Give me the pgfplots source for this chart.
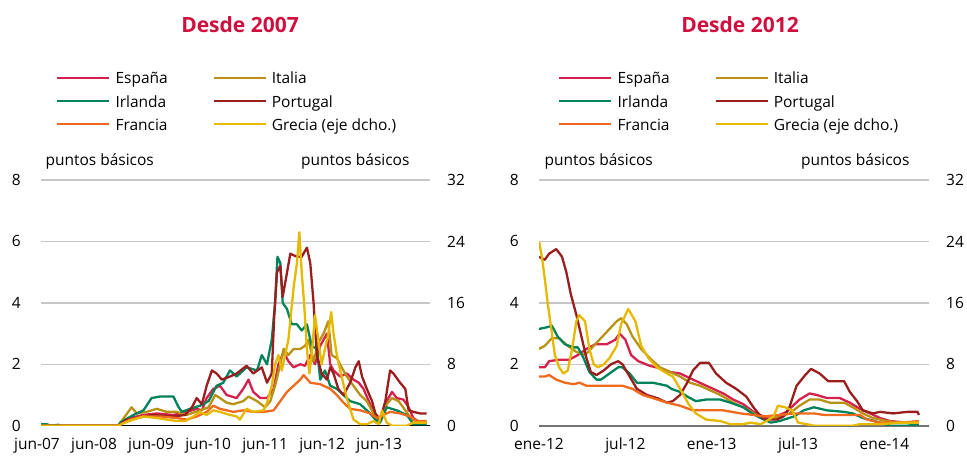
\documentclass[border=0pt]{standalone}
\usepackage{pgfplots}
\pgfplotsset{compat=1.18}
\usepackage{fontspec}
\setmainfont{Open Sans}
\definecolor{esp}{RGB}{212,33,78}
\definecolor{ita}{RGB}{184,146,20}
\definecolor{irl}{RGB}{0,130,90}
\definecolor{por}{RGB}{155,30,30}
\definecolor{fra}{RGB}{240,106,30}
\definecolor{gre}{RGB}{230,185,0}
\definecolor{titlered}{RGB}{207,16,62}
\newcommand{\tf}{\fontsize{15.5}{18}\selectfont}
\newcommand{\lent}[1]{\rule[-3pt]{0pt}{17pt}\makebox[102pt][l]{\hspace{5pt}#1}}
\pgfplotsset{
  base/.style={
    scale only axis, anchor=south west, height=245.7pt,
    ymin=0, ymax=8, no markers,
    every axis plot/.append style={line width=2.3pt, line join=round, sharp plot},
    tick label style={font=\tf},
    /pgf/number format/assume math mode=true,
    major tick length=0pt, tick style={draw=none},
  },
  leftax/.style={
    base, axis x line*=bottom, axis y line*=left,
    y axis line style={draw=none},
    ytick={0,2,4,6,8},
    ymajorgrids, grid style={black!22, line width=1.3pt},
    yticklabel style={anchor=east, inner sep=0pt}, yticklabel shift=20pt,
    xticklabel style={anchor=north, inner sep=0pt}, xticklabel shift=12pt,
    legend image code/.code={\draw[##1, line width=2.3pt] (0pt,0pt) -- (52pt,0pt);},
  },
  rightax/.style={
    base, ymax=32, axis y line*=right, axis x line=none,
    y axis line style={draw=none},
    ytick={0,8,16,24,32},
    yticklabel style={anchor=west, inner sep=0pt}, yticklabel shift=17pt,
  },
}
\begin{document}
\begin{tikzpicture}
\path[use as bounding box] (0,0) rectangle (967pt,460pt);
% ---------------- Left panel ----------------
\begin{axis}[leftax, at={(41pt,34.3pt)}, width=389pt, xmin=0.84, xmax=82.7,
  xtick={12,24,36,48,60,72}, xticklabels={jun-08,jun-09,jun-10,jun-11,jun-12,jun-13},
  extra x ticks={0.84}, extra x tick labels={jun-07},
  extra x tick style={grid=none, xticklabel style={xshift=-4pt}},
  x axis line style={black, line width=1.2pt},
  legend columns=2, legend cell align=left,
  legend style={at={(0.0386,1.4487)}, anchor=north west, draw=none, fill=none,
      inner sep=0pt, /tikz/row sep=7.6pt, /tikz/column sep=0pt,
      nodes={inner sep=0pt, font=\tf}}]
\addplot[esp] table {
0.8 0
17.1 0
19.6 0.25
22.4 0.35
25.2 0.4
28.7 0.35
31.5 0.45
33.6 0.55
34.7 0.5
35.7 0.9
37.1 1.2
38.5 1.3
39.9 1.0
42.0 0.9
43.4 1.2
44.5 1.5
45.5 1.1
47.0 0.9
48.4 0.9
49.8 1.2
50.8 2.0
51.9 2.4
52.9 2.1
54.0 1.9
55.4 2.0
56.4 1.95
57.5 2.3
58.5 2.0
59.6 2.6
60.3 2.8
61.0 3.0
61.7 2.0
62.4 1.8
63.8 1.6
65.2 1.7
66.6 1.5
67.7 1.4
68.7 1.2
70.1 0.7
71.2 0.35
72.2 0.15
73.6 0.8
74.7 1.1
75.7 0.9
77.1 0.85
78.2 0.6
79.2 0.25
80.6 0.1
82.0 0.1
};
\addlegendentry{\lent{España}}
\addplot[ita] table {
0.8 0
17.1 0
18.5 0.3
19.9 0.6
21.0 0.4
23.1 0.45
25.2 0.55
27.3 0.45
29.4 0.45
31.5 0.35
34.3 0.5
36.1 0.6
37.5 1.0
38.5 0.9
39.9 0.75
41.3 0.7
43.4 0.8
44.5 0.95
46.3 0.8
48.0 0.6
49.1 0.8
50.1 1.3
51.2 2.0
51.9 2.5
52.9 2.3
54.0 2.5
55.4 2.5
56.4 2.6
57.1 2.8
58.2 2.1
59.2 2.7
60.3 3.0
61.3 3.4
62.0 2.3
63.1 2.2
64.1 1.9
65.2 1.6
66.6 1.3
68.0 1.0
69.4 0.8
70.8 0.4
72.2 0.15
73.6 0.7
74.7 0.9
76.1 0.8
77.5 0.5
78.9 0.2
80.6 0.1
82.0 0.1
};
\addlegendentry{\lent{Italia}}
\addplot[irl] table {
0.8 0.05
2.0 0.05
3.0 0.0
4.5 0.03
5.0 0.0
17.1 0.0
17.5 0.1
20.3 0.35
22.4 0.5
24.1 0.9
25.9 0.95
28.7 0.95
29.8 0.6
30.5 0.45
32.2 0.55
34.3 0.65
36.1 0.8
37.8 1.3
39.2 1.4
40.6 1.8
42.0 1.6
44.1 1.9
46.3 1.8
47.3 2.3
48.4 2.0
49.4 2.8
50.1 4.0
50.6 5.5
51.2 5.3
51.7 4.0
52.6 3.8
53.6 3.3
54.7 3.3
55.7 3.1
56.8 3.3
57.8 2.6
58.9 2.5
59.6 1.5
60.6 1.8
61.7 1.3
63.1 1.2
64.5 1.0
65.9 0.8
68.0 0.7
70.1 0.4
71.2 0.2
72.2 0.1
73.6 0.6
75.7 0.5
77.8 0.35
79.2 0.05
82.0 0.05
};
\addlegendentry{\lent{Irlanda}}
\addplot[por] table {
0.8 0
17.1 0
18.9 0.2
22.4 0.3
24.5 0.35
28.7 0.3
31.2 0.35
32.6 0.6
33.6 0.9
34.7 0.7
35.7 1.3
36.8 1.8
37.8 1.7
38.9 1.5
40.6 1.6
42.0 1.7
44.1 1.95
45.5 1.7
47.3 1.9
48.4 1.4
49.4 1.7
49.9 3.5
50.5 5.0
51.2 5.2
51.7 4.2
52.4 4.8
53.3 5.6
54.7 5.5
55.7 5.5
56.8 5.8
57.5 5.3
58.2 4.0
58.9 2.3
59.9 1.7
61.0 1.5
61.7 1.9
62.4 1.7
63.4 1.2
64.5 1.0
65.9 1.4
67.0 1.9
67.7 2.1
68.4 1.6
69.4 1.2
70.5 0.8
71.2 0.4
72.2 0.2
73.3 0.8
74.3 1.8
75.0 1.7
76.4 1.4
77.5 1.2
78.2 0.5
79.2 0.45
80.6 0.4
82.0 0.4
};
\addlegendentry{\lent{Portugal}}
\addplot[fra] table {
0.8 0
17.1 0
19.6 0.2
22.4 0.3
25.9 0.3
29.4 0.25
31.5 0.2
33.6 0.3
35.7 0.45
37.1 0.65
38.5 0.55
41.3 0.45
43.4 0.5
45.5 0.45
47.7 0.45
49.8 0.5
51.2 0.8
52.6 1.1
54.0 1.3
55.4 1.5
56.1 1.65
57.5 1.4
59.6 1.35
61.7 1.2
63.1 1.0
64.5 0.75
65.9 0.55
68.0 0.5
70.1 0.4
71.5 0.25
72.9 0.35
74.3 0.45
76.4 0.4
78.5 0.3
79.9 0.15
82.0 0.15
};
\addlegendentry{\lent{Francia}}
\addlegendimage{gre}
\addlegendentry{\lent{Grecia (eje dcho.)}}
\end{axis}
\begin{axis}[rightax, at={(41pt,34.3pt)}, width=389pt, xmin=0.84, xmax=82.7]
\addplot[gre] table {
0.8 0
17.1 0
18.5 0.4
20.3 0.8
22.4 1.2
25.2 1.0
27.3 0.8
29.4 0.6
31.2 0.6
32.9 1.2
34.3 1.8
35.7 1.4
37.1 2.0
38.5 1.8
40.6 1.4
42.0 1.2
42.7 0.8
44.1 2.2
45.5 1.8
47.7 2.0
48.4 3.0
49.4 5.2
50.1 8.0
50.8 9.2
51.5 7.2
52.2 9.2
52.9 11.2
54.0 18.0
54.7 21.2
55.2 25.2
55.7 20.0
56.2 16.0
56.8 10.0
57.3 6.8
57.8 9.2
58.5 14.4
59.2 11.2
59.9 8.0
60.6 10.0
61.3 12.0
61.9 14.8
62.4 12.0
63.1 9.2
64.1 6.4
65.2 3.6
66.6 0.8
68.0 0.2
69.4 0.2
70.8 0.6
71.9 0.2
72.6 2.0
73.6 0.4
74.7 0.0
77.8 0.0
79.2 0.4
82.0 0.4
};
\end{axis}
% ---------------- Right panel ----------------
\begin{axis}[leftax, at={(539pt,34.3pt)}, width=390pt, xmin=0, xmax=27.1,
  xtick={0,6,12,18,24}, xticklabels={ene-12,jul-12,ene-13,jul-13,ene-14},
  x axis line style={black!55, line width=2pt},
  legend columns=2, legend cell align=left,
  legend style={at={(0.0487,1.4487)}, anchor=north west, draw=none, fill=none,
      inner sep=0pt, /tikz/row sep=7.6pt, /tikz/column sep=0pt,
      nodes={inner sep=0pt, font=\tf}}]
\addplot[esp] table {
0.0 1.9
0.4 1.9
0.7 2.1
1.4 2.15
2.1 2.15
2.7 2.3
3.3 2.5
3.9 2.65
4.7 2.65
5.3 2.8
5.6 3.0
6.0 2.8
6.4 2.3
6.9 2.1
7.7 1.95
8.6 1.85
9.1 1.75
9.8 1.7
10.7 1.5
11.4 1.35
12.1 1.2
12.8 1.05
13.5 0.85
14.2 0.7
14.9 0.45
15.6 0.3
16.5 0.3
17.2 0.45
18.1 0.85
18.8 1.05
19.3 1.0
20.0 0.9
20.9 0.9
21.6 0.75
22.3 0.55
23.0 0.4
23.7 0.25
24.4 0.15
25.6 0.1
26.4 0.1
};
\addlegendentry{\lent{España}}
\addplot[ita] table {
0.0 2.5
0.4 2.6
0.9 2.85
1.4 2.85
2.0 2.6
2.6 2.4
3.2 2.3
3.8 2.6
4.3 2.85
5.0 3.2
5.4 3.4
5.7 3.5
6.1 3.3
6.5 2.9
7.1 2.5
7.7 2.2
8.4 1.9
9.1 1.75
9.8 1.6
10.5 1.4
11.2 1.3
11.9 1.15
12.6 1.0
13.5 0.75
14.4 0.55
15.1 0.35
15.8 0.2
16.7 0.3
17.4 0.4
18.1 0.65
18.8 0.85
19.5 0.85
20.2 0.75
21.2 0.75
21.8 0.6
22.5 0.4
23.2 0.25
24.2 0.15
25.1 0.1
26.4 0.1
};
\addlegendentry{\lent{Italia}}
\addplot[irl] table {
0.0 3.15
0.5 3.2
0.9 3.25
1.3 2.9
1.8 2.65
2.4 2.55
2.7 2.55
3.1 2.2
3.5 1.75
4.0 1.5
4.3 1.5
4.9 1.7
5.5 1.9
5.8 1.9
6.3 1.7
6.8 1.4
7.9 1.4
8.9 1.3
9.2 1.2
9.8 1.1
10.3 0.95
10.9 0.8
11.6 0.85
12.6 0.85
13.3 0.75
14.2 0.6
14.8 0.4
15.4 0.25
16.1 0.1
16.7 0.15
17.7 0.3
18.4 0.5
19.1 0.6
20.0 0.5
21.2 0.45
21.8 0.4
22.5 0.25
23.7 0.1
24.4 0.0
25.6 0.0
26.4 0.05
};
\addlegendentry{\lent{Irlanda}}
\addplot[por] table {
0.0 5.5
0.4 5.4
0.7 5.6
1.2 5.75
1.6 5.5
1.9 5.0
2.2 4.3
2.6 3.6
2.9 3.0
3.3 2.2
3.6 1.75
4.0 1.65
4.5 1.8
5.0 2.0
5.5 2.1
5.8 2.0
6.3 1.6
6.8 1.2
7.5 1.0
8.2 0.9
8.9 0.75
9.3 0.8
9.8 1.0
10.3 1.4
10.7 1.8
11.2 2.05
11.8 2.05
12.3 1.7
13.0 1.4
13.7 1.2
14.4 0.95
14.9 0.6
15.5 0.25
16.1 0.2
16.5 0.2
17.0 0.3
17.4 0.6
17.9 1.3
18.5 1.65
18.9 1.85
19.5 1.7
20.1 1.45
21.2 1.45
21.6 1.1
22.1 0.8
22.5 0.5
23.2 0.4
23.7 0.45
24.6 0.4
25.6 0.45
26.3 0.45
26.4 0.35
};
\addlegendentry{\lent{Portugal}}
\addplot[fra] table {
0.0 1.6
0.4 1.6
0.7 1.65
1.2 1.5
1.8 1.4
2.4 1.35
2.8 1.4
3.3 1.3
3.9 1.3
4.7 1.3
5.8 1.3
6.5 1.2
7.2 1.0
7.9 0.9
8.9 0.75
9.8 0.65
10.7 0.5
11.6 0.5
12.8 0.5
14.0 0.4
14.9 0.35
15.6 0.3
16.7 0.35
17.7 0.4
19.1 0.4
19.8 0.35
21.4 0.35
22.3 0.35
22.8 0.2
23.7 0.1
25.1 0.1
26.4 0.15
};
\addlegendentry{\lent{Francia}}
\addlegendimage{gre}
\addlegendentry{\lent{Grecia (eje dcho.)}}
\end{axis}
\begin{axis}[rightax, at={(539pt,34.3pt)}, width=390pt, xmin=0, xmax=27.1]
\addplot[gre] table {
0.0 24.0
0.2 22.0
0.4 19.2
0.6 16.0
0.9 12.0
1.1 9.2
1.4 7.6
1.7 6.8
2.0 7.2
2.3 10.0
2.6 13.6
2.8 14.4
3.2 13.6
3.5 10.0
3.8 8.0
4.1 7.6
4.5 8.0
4.9 8.8
5.4 10.4
5.7 13.2
6.2 15.2
6.7 13.6
7.1 10.4
7.6 8.8
8.2 7.6
8.9 6.8
9.3 6.4
9.8 4.8
10.4 2.8
10.9 1.6
11.6 0.8
12.6 0.6
13.3 0.2
14.2 0.2
14.7 0.4
15.4 0.2
15.8 0.6
16.3 1.2
16.6 2.6
17.1 2.4
17.6 2.0
18.0 0.4
18.6 0.2
19.1 0.0
21.8 0.0
22.3 0.2
23.7 0.2
25.1 0.4
26.4 0.4
};
\end{axis}
% ---------------- Texts ----------------
\node[anchor=base west, font=\tf] at (42pt,294pt) {puntos básicos};
\node[anchor=base east, font=\tf] at (413pt,294pt) {puntos básicos};
\node[anchor=base west, font=\tf] at (541pt,294pt) {puntos básicos};
\node[anchor=base east, font=\tf] at (913pt,294pt) {puntos básicos};
\node[anchor=base, font=\fontsize{21}{24}\selectfont\bfseries, text=titlered] at (240pt,427pt) {Desde 2007};
\node[anchor=base, font=\fontsize{21}{24}\selectfont\bfseries, text=titlered] at (740pt,427pt) {Desde 2012};
\end{tikzpicture}
\end{document}
